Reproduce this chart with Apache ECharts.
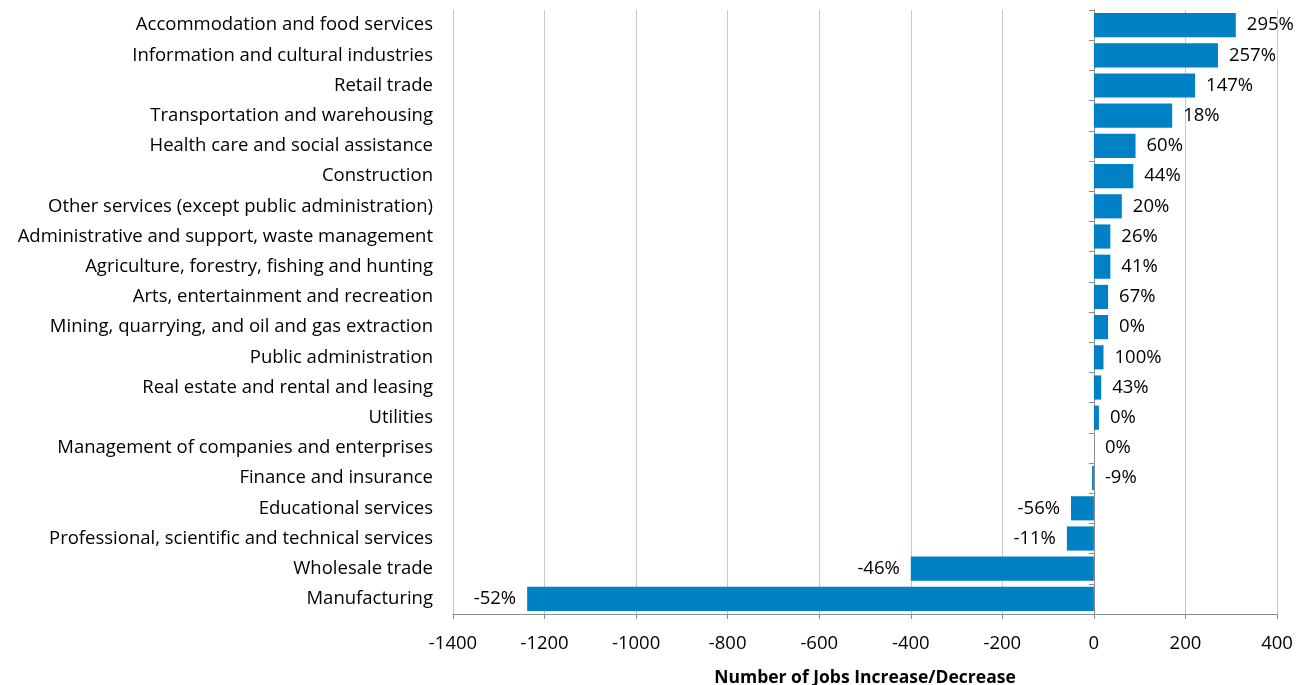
<!DOCTYPE html>
<html>
<head>
<meta charset="utf-8">
<script src="https://cdn.jsdelivr.net/npm/echarts@6/dist/echarts.min.js"></script>
<style>
  html, body { margin: 0; padding: 0; background: #fff; }
  #chart { width: 1309px; height: 685px; }
</style>
</head>
<body>
<div id="chart"></div>
<script>
// Industries, listed top to bottom
const industries = [
  'Accommodation and food services',
  'Information and cultural industries',
  'Retail trade',
  'Transportation and warehousing',
  'Health care and social assistance',
  'Construction',
  'Other services (except public administration)',
  'Administrative and support, waste management',
  'Agriculture, forestry, fishing and hunting',
  'Arts, entertainment and recreation',
  'Mining, quarrying, and oil and gas extraction',
  'Public administration',
  'Real estate and rental and leasing',
  'Utilities',
  'Management of companies and enterprises',
  'Finance and insurance',
  'Educational services',
  'Professional, scientific and technical services',
  'Wholesale trade',
  'Manufacturing'
];

// Change in number of jobs
const jobChange = [310, 271, 221, 171, 91, 86, 61, 36, 36, 31, 31, 21, 16, 11, 0, -4, -50, -59, -400, -1238];

// Percentage change shown beside each bar
const pctChange = ['295%', '257%', '147%', '18%', '60%', '44%', '20%', '26%', '41%', '67%',
                   '0%', '100%', '43%', '0%', '0%', '-9%', '-56%', '-11%', '-46%', '-52%'];

// Value axis range and step
const xMin = -1400, xMax = 400, xStep = 200;

const FONT = 'Open Sans';
const FS = 18.5;
const barColor = '#0081C6';

const chart = echarts.init(document.getElementById('chart'));

const seriesData = jobChange.map((v, i) => ({
  value: v,
  label: {
    position: v < -10 ? 'left' : 'right',
    formatter: pctChange[i]
  }
}));

chart.setOption({
  animation: false,
  textStyle: { fontFamily: FONT },
  grid: { left: 453, right: 32, top: 10, bottom: 71, containLabel: false, outerBoundsMode: 'none' },
  xAxis: {
    type: 'value',
    min: xMin, max: xMax, interval: xStep,
    name: 'Number of Jobs Increase/Decrease',
    nameLocation: 'middle',
    nameGap: 55,
    nameTextStyle: { fontFamily: FONT, fontWeight: 'bold', fontSize: 17.5, color: '#000' },
    axisLine: { show: true, onZero: false, lineStyle: { color: '#8c8c8c', width: 1 } },
    axisTick: { show: true, length: 5, lineStyle: { color: '#8c8c8c' } },
    axisLabel: { fontFamily: FONT, fontSize: FS, color: '#000', margin: 20, formatter: v => String(v) },
    splitLine: { show: true, lineStyle: { color: '#c8c8c8', width: 1 } }
  },
  yAxis: [
    {
      type: 'category',
      data: industries,
      inverse: true,
      position: 'left',
      axisLine: { show: false },
      axisTick: { show: false },
      axisLabel: { fontFamily: FONT, fontSize: FS, color: '#000', margin: 20 }
    },
    {
      // vertical baseline drawn at zero, with ticks between categories
      type: 'category',
      data: industries,
      inverse: true,
      position: 'left',
      axisLine: { show: true, onZero: true, onZeroAxisIndex: 0, lineStyle: { color: '#8c8c8c', width: 1 } },
      axisTick: { show: true, length: 5, lineStyle: { color: '#8c8c8c' } },
      axisLabel: { show: false }
    }
  ],
  series: [{
    type: 'bar',
    yAxisIndex: 0,
    data: seriesData,
    barCategoryGap: '20%',
    itemStyle: { color: barColor },
    label: {
      show: true,
      distance: 11,
      fontFamily: FONT,
      fontSize: FS,
      color: '#000'
    }
  }]
});
</script>
</body>
</html>
